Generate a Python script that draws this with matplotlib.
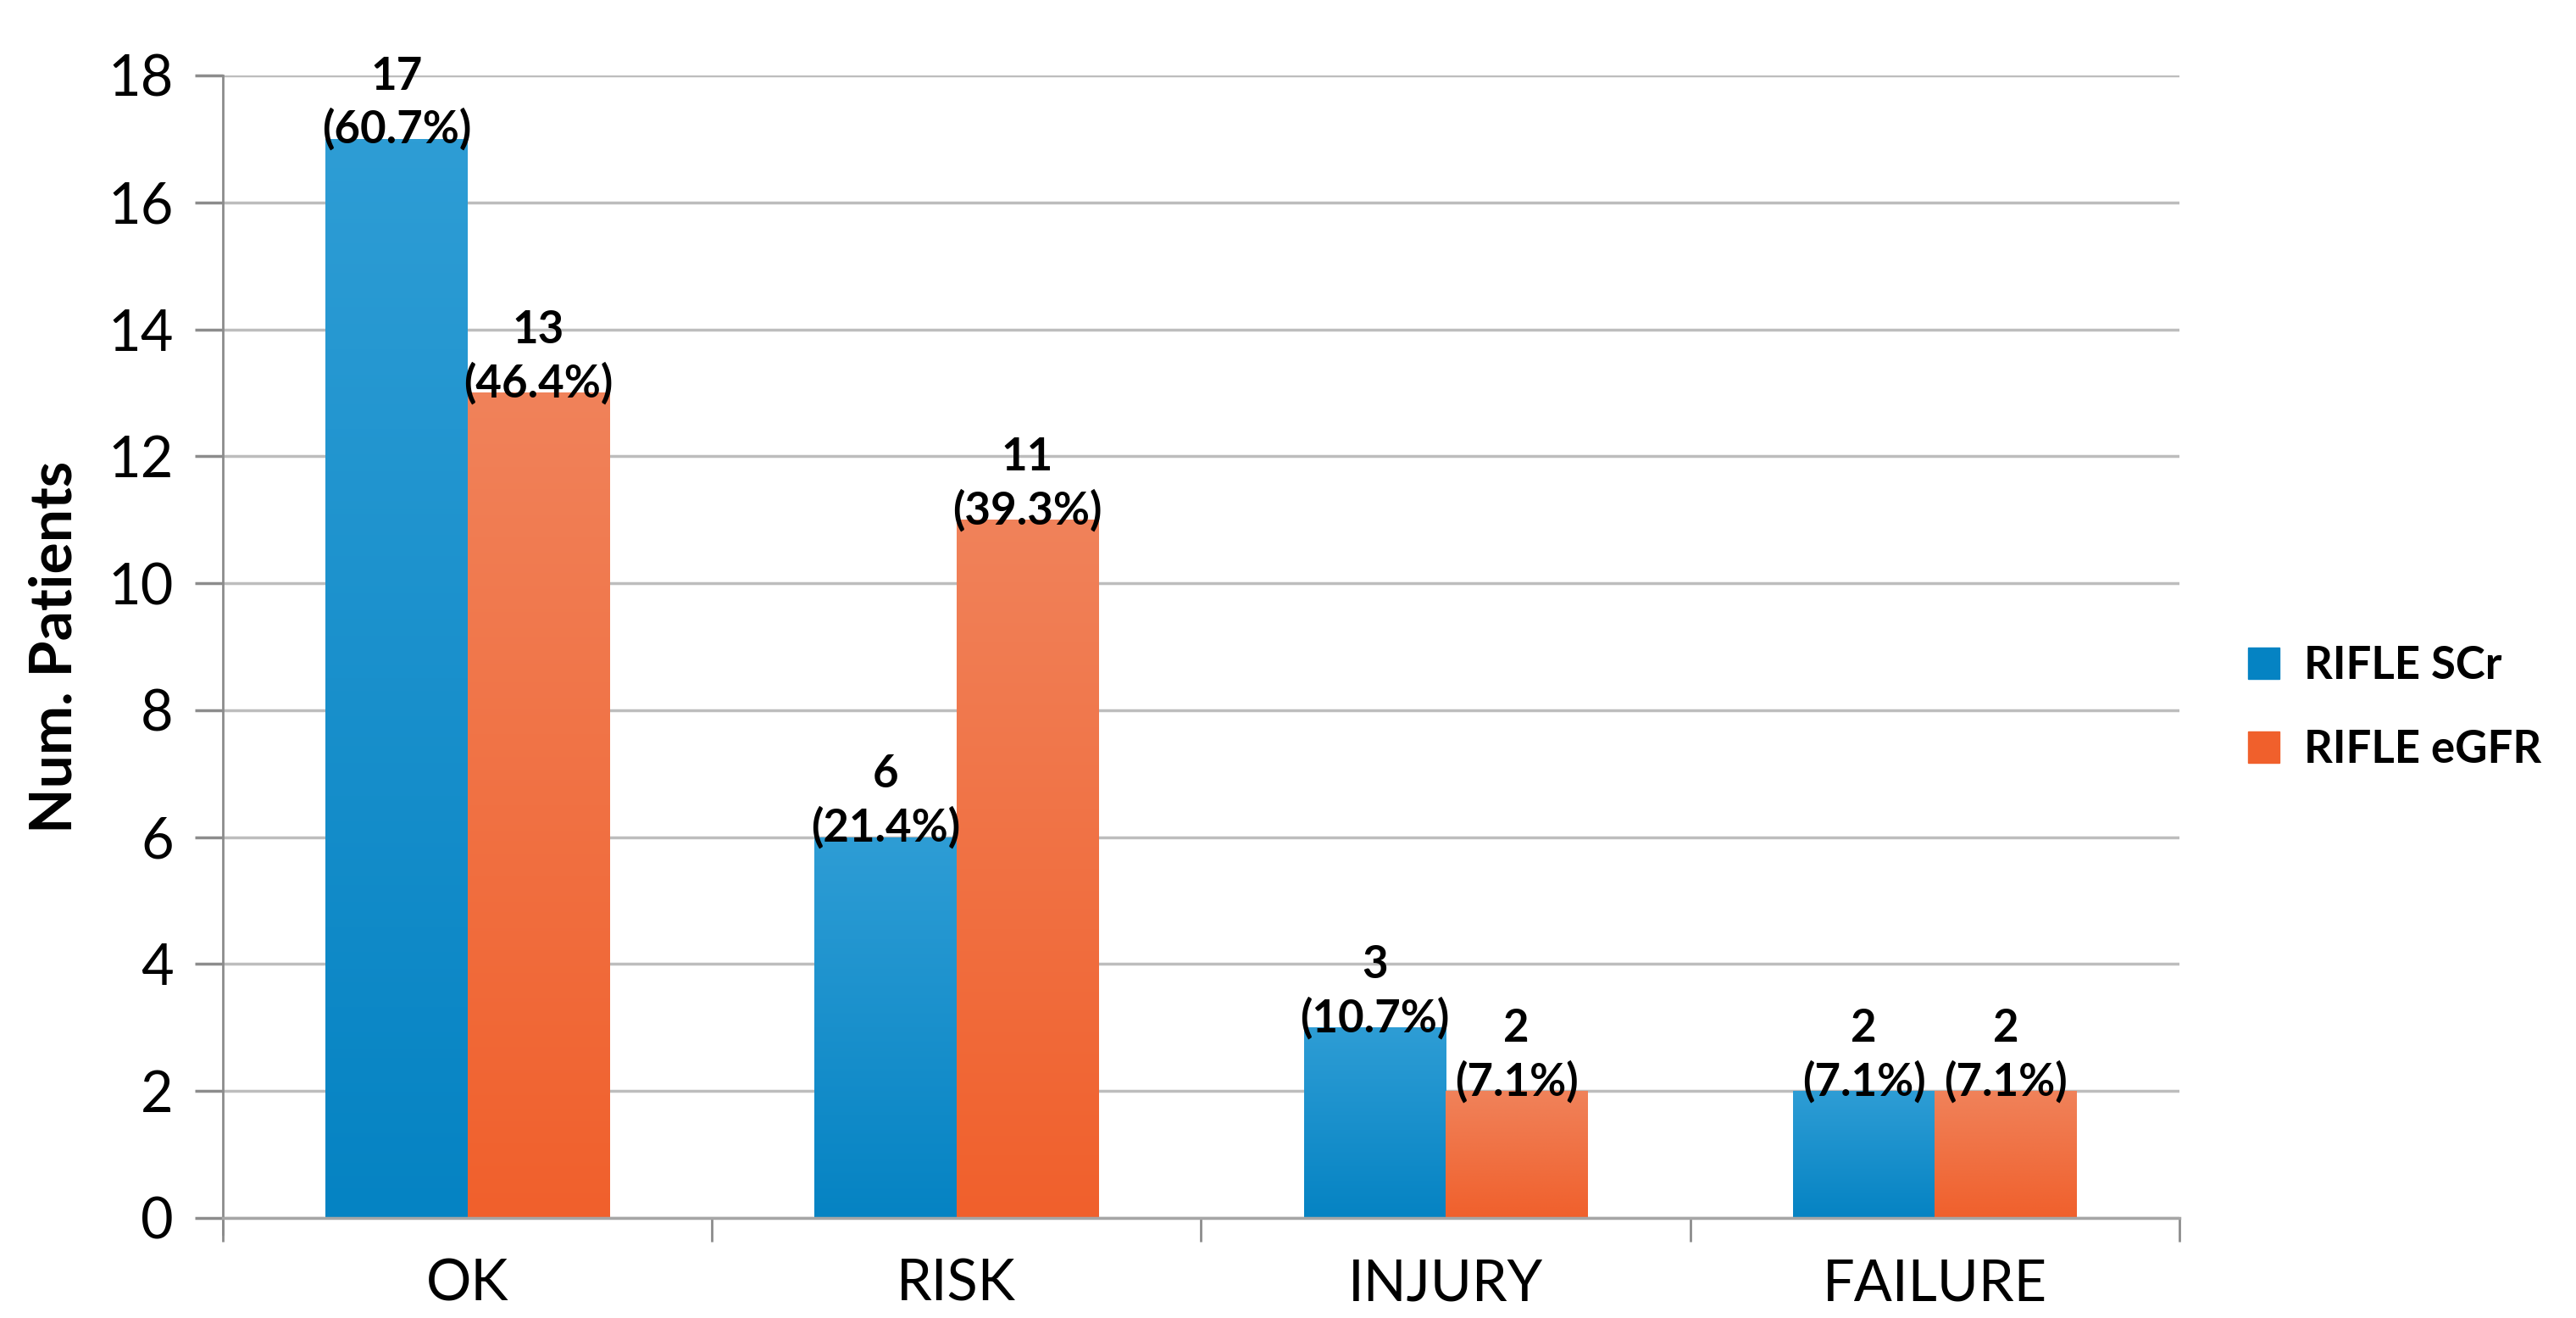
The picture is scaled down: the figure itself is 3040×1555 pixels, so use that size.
import numpy as np
import matplotlib
matplotlib.use("Agg")
import matplotlib.pyplot as plt
from matplotlib.colors import LinearSegmentedColormap

# data
categories = ['OK', 'RISK', 'INJURY', 'FAILURE']
scr_counts = [17, 6, 3, 2]
egfr_counts = [13, 11, 2, 2]
scr_pct = ['60.7%', '21.4%', '10.7%', '7.1%']
egfr_pct = ['46.4%', '39.3%', '7.1%', '7.1%']
series_names = ['RIFLE SCr', 'RIFLE eGFR']
yticks = [0, 2, 4, 6, 8, 10, 12, 14, 16, 18]

plt.rcParams['font.family'] = ['Lato', 'DejaVu Sans']

blue_top, blue_bot = '#2e9dd5', '#0583c3'
orange_top, orange_bot = '#f0825a', '#f0602c'

fig = plt.figure(figsize=(30.4, 15.55), dpi=100)
ax = fig.add_axes([0.0865, 0.0759, 0.7595, 0.8669])

x = np.arange(len(categories))
w = 0.29
bars_scr = ax.bar(x - w / 2, scr_counts, w, color=blue_bot, label=series_names[0], zorder=2)
bars_egfr = ax.bar(x + w / 2, egfr_counts, w, color=orange_bot, label=series_names[1], zorder=2)


def shade(bars, top, bot):
    cmap = LinearSegmentedColormap.from_list('g', [bot, top])
    grad = np.linspace(0, 1, 256).reshape(-1, 1)
    for b in bars:
        x0, y0 = b.get_x(), b.get_y()
        im = ax.imshow(grad, cmap=cmap, origin='lower', aspect='auto',
                       extent=[x0, x0 + b.get_width(), y0, y0 + b.get_height()],
                       zorder=2.1)
        im.set_clip_path(b)


shade(bars_scr, blue_top, blue_bot)
shade(bars_egfr, orange_top, orange_bot)

# value labels
for bars, counts, pcts in [(bars_scr, scr_counts, scr_pct), (bars_egfr, egfr_counts, egfr_pct)]:
    for b, c, p in zip(bars, counts, pcts):
        ax.annotate(f'{c}\n({p})', (b.get_x() + b.get_width() / 2, c),
                    xytext=(0, -10), textcoords='offset points',
                    ha='center', va='bottom', fontsize=38, fontweight='bold',
                    linespacing=1.3, zorder=3)

ax.set_xlim(-0.5, len(categories) - 0.5)
ax.set_ylim(0, 18)
ax.set_yticks(yticks)
ax.set_xticks(x)
ax.set_xticklabels(categories)
ax.set_xticks(np.arange(-0.5, len(categories)), minor=True)
ax.tick_params(axis='x', which='major', length=0, labelsize=48, pad=34)
ax.tick_params(axis='x', which='minor', length=20, width=2, color='#8c8c8c')
ax.tick_params(axis='y', length=24, width=2.5, color='#8c8c8c', labelsize=48, pad=18)
ax.yaxis.grid(True, color='#bdbdbd', linewidth=2.5, zorder=0)
ax.set_axisbelow(True)

for s in ['top', 'right']:
    ax.spines[s].set_visible(False)
ax.spines['left'].set_color('#8c8c8c')
ax.spines['left'].set_linewidth(2)
ax.spines['left'].set_bounds(-0.26, 18)
ax.spines['bottom'].set_color('#a6a6a6')
ax.spines['bottom'].set_linewidth(2.5)

ax.set_ylabel('Num. Patients', fontsize=50, fontweight='bold', labelpad=22)

handles = [plt.Rectangle((0, 0), 1, 1, color=blue_bot), plt.Rectangle((0, 0), 1, 1, color=orange_bot)]
fig.legend(handles, series_names, loc='center left', bbox_to_anchor=(0.857, 0.463),
           frameon=False, prop={'size': 38, 'weight': 'bold'},
           handlelength=0.7, handleheight=0.7, handletextpad=0.55, labelspacing=0.95)

fig.savefig('out.png', dpi=100)
